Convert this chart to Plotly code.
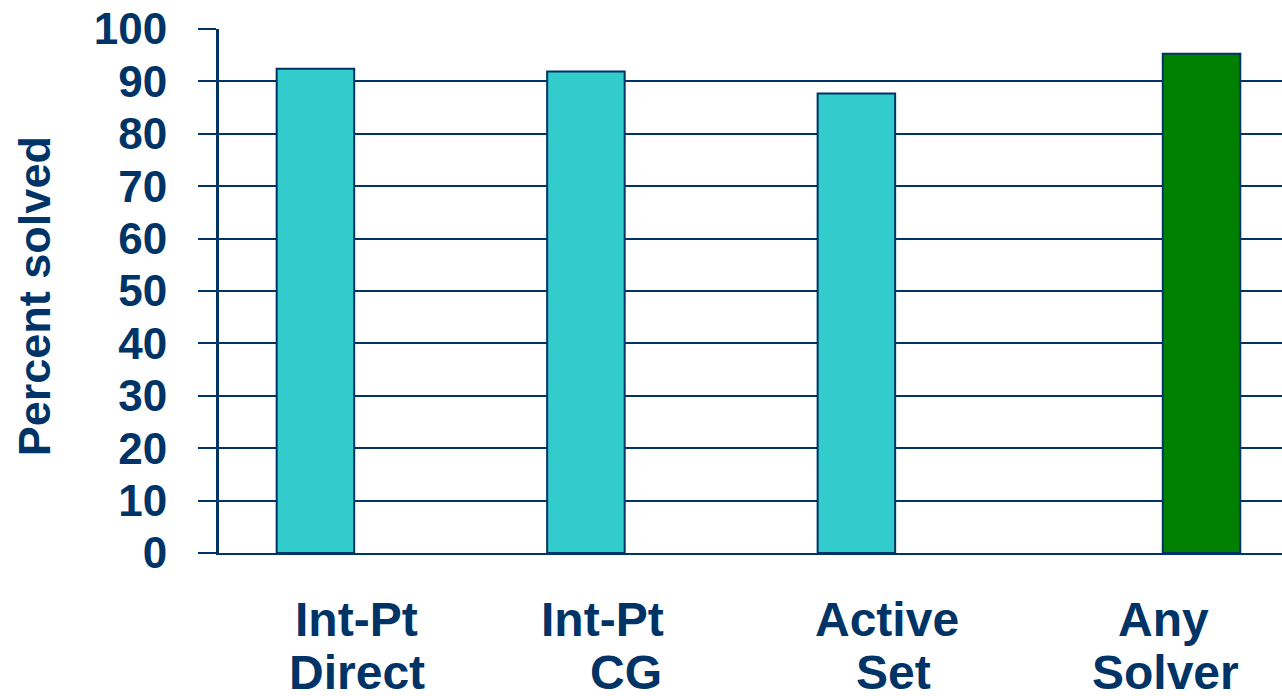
import plotly.graph_objects as go

# Data
categories = ["Int-Pt Direct", "Int-Pt CG", "Active Set", "Any Solver"]
values = [92.4, 91.9, 87.7, 95.3]
bar_x = [1.0, 2.0, 3.0, 4.276]
bar_colors = ["#33CCCC", "#33CCCC", "#33CCCC", "#008000"]
label_line1 = ["Int-Pt", "Int-Pt", "Active", "Any"]
label_line2 = ["Direct", "CG", "Set", "Solver"]
label1_x = [1.153, 2.060, 3.113, 4.135]
label2_x = [1.153, 2.149, 3.139, 4.141]
y_ticks = [0, 10, 20, 30, 40, 50, 60, 70, 80, 90, 100]

NAVY = "#003366"
FONT = "Liberation Sans, Arial, sans-serif"

fig = go.Figure()
fig.add_trace(go.Bar(
    x=bar_x, y=values, width=0.2866,
    marker=dict(color=bar_colors, line=dict(color=NAVY, width=2)),
    hoverinfo="y", showlegend=False,
))

fig.update_layout(
    width=1282, height=696,
    margin=dict(l=219, r=0, t=29, b=143),
    plot_bgcolor="white", paper_bgcolor="white",
    xaxis=dict(range=[0.6435, 4.5735], showticklabels=False, showgrid=False,
               zeroline=False, showline=True, linecolor=NAVY, linewidth=2,
               ticks=""),
    yaxis=dict(range=[0, 100], tickvals=y_ticks, showgrid=True, gridcolor=NAVY,
               gridwidth=2, zeroline=False, showline=True, linecolor=NAVY,
               linewidth=3, ticks="outside", ticklen=18, tickwidth=2,
               tickcolor=NAVY, ticklabelstandoff=22,
               tickfont=dict(family=FONT, size=44, color=NAVY, weight="bold")),
    font=dict(family=FONT, color=NAVY),
)

annotations = []
for i in range(len(categories)):
    annotations.append(dict(x=label1_x[i], y=-0.127, xref="x", yref="paper",
                            text="<b>%s</b>" % label_line1[i], showarrow=False,
                            xanchor="center", yanchor="middle",
                            font=dict(family=FONT, size=48, color=NAVY)))
    annotations.append(dict(x=label2_x[i], y=-0.228, xref="x", yref="paper",
                            text="<b>%s</b>" % label_line2[i], showarrow=False,
                            xanchor="center", yanchor="middle",
                            font=dict(family=FONT, size=48, color=NAVY)))
annotations.append(dict(x=(34 - 219) / 1063, y=0.49, xref="paper", yref="paper",
                        text="<b>Percent solved</b>", showarrow=False, textangle=-90,
                        xanchor="center", yanchor="middle",
                        font=dict(family=FONT, size=45, color=NAVY)))
fig.update_layout(annotations=annotations)

fig.write_html("out.html")
